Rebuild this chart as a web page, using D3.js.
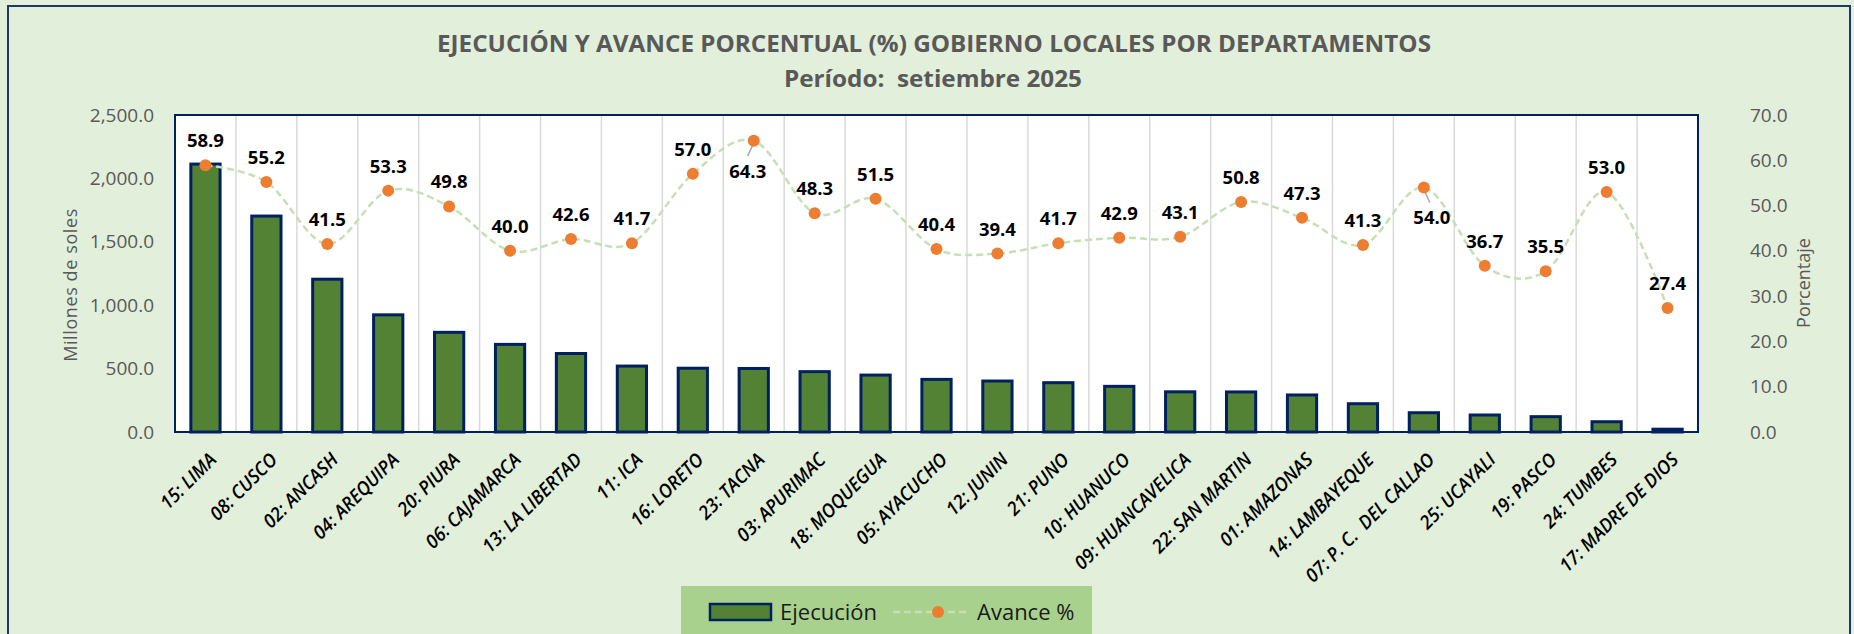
<!DOCTYPE html>
<html>
<head>
<meta charset="utf-8">
<script src="https://cdn.jsdelivr.net/npm/d3@7"></script>
<style>
  body { margin: 0; background: #e2efda; }
  text { font-family: "Open Sans", "Noto Sans", sans-serif; }
</style>
</head>
<body>
<script>
// datos
var departamentos = ["15: LIMA", "08: CUSCO", "02: ANCASH", "04: AREQUIPA", "20: PIURA", "06: CAJAMARCA",
  "13: LA LIBERTAD", "11: ICA", "16: LORETO", "23: TACNA", "03: APURIMAC", "18: MOQUEGUA", "05: AYACUCHO",
  "12: JUNIN", "21: PUNO", "10: HUANUCO", "09: HUANCAVELICA", "22: SAN MARTIN", "01: AMAZONAS",
  "14: LAMBAYEQUE", "07: P. C.  DEL CALLAO", "25: UCAYALI", "19: PASCO", "24: TUMBES", "17: MADRE DE DIOS"];
var ejecucion = [2113, 1703, 1205, 924, 786, 691, 619, 520, 503, 501, 476, 449, 415, 402, 389, 360, 317,
  316, 292, 223, 152, 134, 121, 81, 22];
var avance = [58.9, 55.2, 41.5, 53.3, 49.8, 40.0, 42.6, 41.7, 57.0, 64.3, 48.3, 51.5, 40.4, 39.4, 41.7,
  42.9, 43.1, 50.8, 47.3, 41.3, 54.0, 36.7, 35.5, 53.0, 27.4];
var ticksSoles = [0, 500, 1000, 1500, 2000, 2500];
var ticksPct = [0, 10, 20, 30, 40, 50, 60, 70];
var etiquetasAbajo = ["23: TACNA", "07: P. C.  DEL CALLAO"];

var W = 1854, H = 634;
var pL = 175, pR = 1698, pT = 115, pB = 432;

var svg = d3.select("body").append("svg")
  .attr("width", W)
  .attr("height", H);

svg.append("rect")
  .attr("x", 8).attr("y", 6)
  .attr("width", 1842).attr("height", 700)
  .attr("fill", "#e2efda")
  .attr("stroke", "#1f3864")
  .attr("stroke-width", 2);

// titulo
svg.append("text")
  .attr("x", 934).attr("y", 52)
  .attr("text-anchor", "middle")
  .attr("font-size", 23).attr("font-weight", "bold")
  .attr("fill", "#595959")
  .attr("textLength", 994).attr("lengthAdjust", "spacingAndGlyphs")
  .text("EJECUCIÓN Y AVANCE PORCENTUAL (%) GOBIERNO LOCALES POR DEPARTAMENTOS");

svg.append("text")
  .attr("x", 933).attr("y", 87)
  .attr("text-anchor", "middle")
  .attr("font-size", 23).attr("font-weight", "bold")
  .attr("fill", "#595959")
  .style("white-space", "pre")
  .attr("textLength", 298).attr("lengthAdjust", "spacingAndGlyphs")
  .text("Período:  setiembre 2025");

var x = d3.scaleBand()
  .domain(departamentos)
  .range([pL, pR])
  .padding(0);

var yL = d3.scaleLinear().domain([0, 2500]).range([pB, pT]);
var yR = d3.scaleLinear().domain([0, 70]).range([pB, pT]);

// area de trazado
svg.append("rect")
  .attr("x", pL).attr("y", pT)
  .attr("width", pR - pL).attr("height", pB - pT)
  .attr("fill", "#fff");

svg.append("g")
  .selectAll("line")
  .data(departamentos.slice(1))
  .enter()
  .append("line")
  .attr("x1", function (d) { return x(d); })
  .attr("x2", function (d) { return x(d); })
  .attr("y1", pT).attr("y2", pB)
  .attr("stroke", "#d9d9d9")
  .attr("stroke-width", 1.5);

// barras
var bw = x.bandwidth() * 0.48;
svg.append("g")
  .selectAll("rect")
  .data(departamentos)
  .enter()
  .append("rect")
  .attr("x", function (d) { return x(d) + (x.bandwidth() - bw) / 2; })
  .attr("y", function (d, i) { return yL(ejecucion[i]); })
  .attr("width", bw)
  .attr("height", function (d, i) { return pB - yL(ejecucion[i]); })
  .attr("fill", "#548235")
  .attr("stroke", "#002060")
  .attr("stroke-width", 3);

svg.append("rect")
  .attr("x", pL).attr("y", pT)
  .attr("width", pR - pL).attr("height", pB - pT)
  .attr("fill", "none")
  .attr("stroke", "#002060")
  .attr("stroke-width", 2);

// linea avance
var cx = function (d, i) { return x(departamentos[i]) + x.bandwidth() / 2; };
var line = d3.line()
  .x(cx)
  .y(function (d) { return yR(d); })
  .curve(d3.curveCardinal.tension(0));

svg.append("path")
  .datum(avance)
  .attr("d", line)
  .attr("fill", "none")
  .attr("stroke", "#c5e0b4")
  .attr("stroke-width", 2.5)
  .attr("stroke-dasharray", "7,4");

// lineas guia para etiquetas debajo
svg.append("g")
  .selectAll("line")
  .data(etiquetasAbajo)
  .enter()
  .append("line")
  .each(function (nombre) {
    var i = departamentos.indexOf(nombre);
    var px = cx(null, i), py = yR(avance[i]);
    var s = nombre == "23: TACNA" ? -1 : 1;
    d3.select(this)
      .attr("x1", px).attr("y1", py + 2)
      .attr("x2", px + s * 6).attr("y2", py + 15);
  })
  .attr("stroke", "#a6a6a6")
  .attr("stroke-width", 1.5);

svg.append("g")
  .selectAll("circle")
  .data(avance)
  .enter()
  .append("circle")
  .attr("cx", cx)
  .attr("cy", function (d) { return yR(d); })
  .attr("r", 6)
  .attr("fill", "#ed7d31");

svg.append("g")
  .selectAll("text")
  .data(avance)
  .enter()
  .append("text")
  .attr("x", function (d, i) {
    if (departamentos[i] == "23: TACNA") return cx(d, i) - 6;
    if (departamentos[i] == "07: P. C.  DEL CALLAO") return cx(d, i) + 8;
    return cx(d, i);
  })
  .attr("y", function (d, i) {
    if (etiquetasAbajo.indexOf(departamentos[i]) >= 0) return yR(d) + 37;
    return yR(d) - 18;
  })
  .attr("text-anchor", "middle")
  .attr("font-size", 18.5)
  .attr("font-weight", "bold")
  .attr("fill", "#000")
  .text(function (d) { return d.toFixed(1); });

// ejes
var axL = svg.append("g")
  .attr("transform", "translate(" + pL + ",0)")
  .call(d3.axisLeft(yL).tickValues(ticksSoles).tickSize(0).tickPadding(21).tickFormat(d3.format(",.1f")));
axL.select(".domain").remove();
axL.selectAll("text").attr("font-size", 19).attr("fill", "#595959").attr("font-family", "Open Sans");

var axR = svg.append("g")
  .attr("transform", "translate(" + pR + ",0)")
  .call(d3.axisRight(yR).tickValues(ticksPct).tickSize(0).tickPadding(52).tickFormat(d3.format(".1f")));
axR.select(".domain").remove();
axR.selectAll("text").attr("font-size", 19).attr("fill", "#595959").attr("font-family", "Open Sans");

svg.append("text")
  .attr("transform", "translate(71,285) rotate(-90)")
  .attr("text-anchor", "middle")
  .attr("dy", "0.35em")
  .attr("font-size", 18)
  .attr("letter-spacing", 0.6)
  .attr("fill", "#595959")
  .text("Millones de soles");

svg.append("text")
  .attr("transform", "translate(1804,283) rotate(-90)")
  .attr("text-anchor", "middle")
  .attr("dy", "0.35em")
  .attr("font-size", 18)
  .attr("fill", "#595959")
  .text("Porcentaje");

// etiquetas de categorias
svg.append("g")
  .selectAll("text")
  .data(departamentos)
  .enter()
  .append("text")
  .attr("transform", function (d) {
    return "translate(" + (x(d) + x.bandwidth() / 2 + 12) + "," + (pB + 29) + ") rotate(-45) scale(0.95,1)";
  })
  .attr("text-anchor", "end")
  .attr("font-size", 19)
  .attr("font-weight", 600)
  .attr("font-style", "italic")
  .attr("fill", "#000")
  .style("white-space", "pre")
  .text(function (d) { return d; });

// leyenda
var leg = svg.append("g");
leg.append("rect")
  .attr("x", 681).attr("y", 586)
  .attr("width", 411).attr("height", 60)
  .attr("fill", "#a9d18e");
leg.append("rect")
  .attr("x", 710).attr("y", 604)
  .attr("width", 61).attr("height", 16)
  .attr("fill", "#548235")
  .attr("stroke", "#002060")
  .attr("stroke-width", 2.5);
leg.append("text")
  .attr("x", 780).attr("y", 620)
  .attr("font-size", 22)
  .attr("fill", "#1a1a1a")
  .text("Ejecución");
leg.append("line")
  .attr("x1", 893).attr("x2", 968)
  .attr("y1", 612).attr("y2", 612)
  .attr("stroke", "#c5e0b4")
  .attr("stroke-width", 2.5)
  .attr("stroke-dasharray", "7,4");
leg.append("circle")
  .attr("cx", 938).attr("cy", 612).attr("r", 6)
  .attr("fill", "#ed7d31");
leg.append("text")
  .attr("x", 977).attr("y", 620)
  .attr("font-size", 22)
  .attr("fill", "#1a1a1a")
  .text("Avance %");
</script>
</body>
</html>
